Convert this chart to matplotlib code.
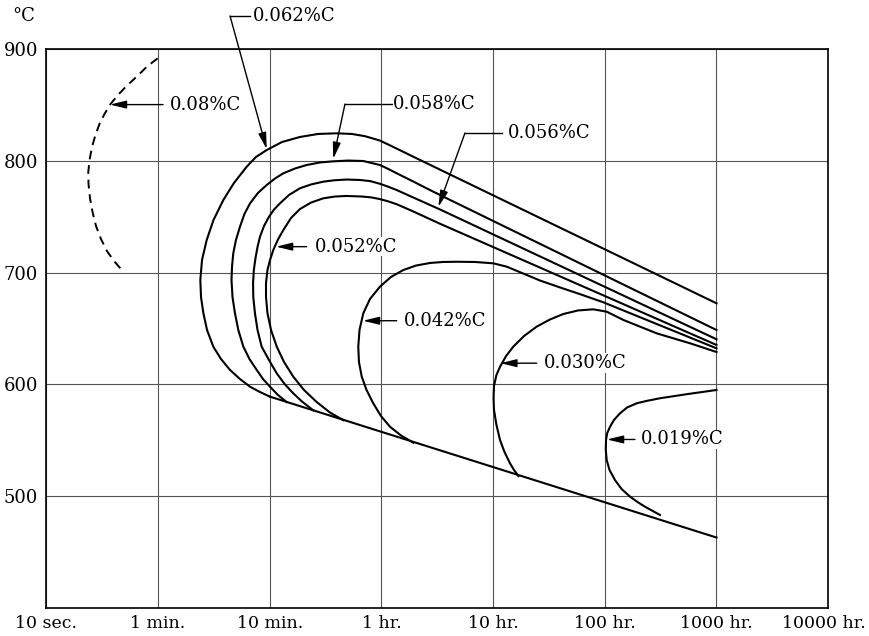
import matplotlib
matplotlib.use("Agg")
import matplotlib.pyplot as plt
import matplotlib.transforms as mtransforms

# x positions are grid steps: 0 = 10 sec, 1 = 1 min, ... 7 = 10000 hr
x_labels = ["10 sec.", "1 min.", "10 min.", "1 hr.", "10 hr.", "100 hr.", "1000 hr.", "10000 hr."]
y_ticks = [500, 600, 700, 800, 900]

# 0.08 %C (dashed)
c080_x = [0.997, 0.902, 0.809, 0.718, 0.637, 0.575, 0.521, 0.476, 0.440, 0.409,
          0.387, 0.376, 0.378, 0.391, 0.414, 0.445, 0.490, 0.543, 0.606, 0.689]
c080_t = [891.9, 884.6, 875.5, 867.1, 858.6, 851.0, 842.1, 833.1, 823.3, 812.5,
          800.9, 790.2, 779.4, 766.9, 754.3, 741.8, 730.1, 719.4, 710.5, 700.9]

# 0.062 %C
c062_x = [2.003, 1.913, 1.824, 1.734, 1.645, 1.564, 1.495, 1.439, 1.406, 1.385, 1.379,
          1.394, 1.436, 1.497, 1.585, 1.680, 1.794, 1.877, 1.973, 2.110, 2.271, 2.432,
          2.600, 2.737, 2.853, 2.916, 2.987, 3.137, 3.286, 6.0]
c062_t = [589.0, 593.2, 597.9, 604.8, 612.9, 622.7, 633.8, 648.7, 663.9, 678.2, 693.5,
          711.4, 729.3, 747.2, 765.1, 780.3, 794.9, 803.6, 809.8, 817.0, 821.5, 824.2,
          824.8, 824.2, 822.2, 820.4, 818.3, 811.1, 803.8, 672.6]

# 0.058 %C
c058_x = [2.152, 2.074, 2.003, 1.940, 1.884, 1.819, 1.764, 1.719, 1.689, 1.667, 1.658,
          1.663, 1.674, 1.698, 1.734, 1.774, 1.824, 1.895, 1.973, 2.047, 2.122, 2.227,
          2.331, 2.450, 2.569, 2.701, 2.838, 2.987, 3.059, 3.137, 3.286, 3.435, 3.585, 6.0]
c058_t = [584.2, 590.5, 597.9, 604.8, 612.9, 622.7, 633.8, 648.7, 663.7, 678.2, 693.5,
          706.0, 717.4, 729.3, 741.2, 752.6, 762.1, 771.4, 778.5, 784.3, 789.0, 793.3,
          796.4, 798.7, 799.7, 800.4, 800.0, 796.4, 793.0, 789.0, 781.6, 774.0, 766.6, 648.7]

# 0.056 %C
c056_x = [2.390, 2.289, 2.211, 2.133, 2.063, 1.998, 1.928, 1.891, 1.868, 1.853, 1.851,
          1.858, 1.873, 1.891, 1.913, 1.949, 1.994, 2.039, 2.092, 2.173, 2.271, 2.370,
          2.480, 2.584, 2.689, 2.808, 2.900, 2.987, 3.060, 3.137, 3.286, 3.525, 6.0]
c056_t = [576.8, 584.7, 592.0, 600.4, 609.9, 621.0, 633.8, 648.7, 663.7, 678.2, 690.8,
          702.4, 713.2, 723.0, 732.2, 741.8, 750.1, 756.6, 762.1, 769.6, 775.6, 779.0,
          781.5, 782.8, 783.4, 783.0, 782.0, 779.6, 777.0, 774.0, 767.3, 756.6, 640.4]

# 0.052 %C
c052_x = [2.659, 2.540, 2.421, 2.307, 2.211, 2.128, 2.063, 2.012, 1.980, 1.967, 1.967,
          1.980, 2.003, 2.032, 2.074, 2.122, 2.191, 2.271, 2.370, 2.480, 2.585, 2.689,
          2.826, 2.910, 2.987, 3.060, 3.137, 3.286, 3.525, 6.0]
c052_t = [568.0, 574.8, 584.2, 595.0, 606.9, 620.1, 633.8, 648.7, 663.7, 678.2, 690.8,
          702.4, 711.4, 720.3, 729.7, 738.2, 749.0, 757.0, 762.8, 766.6, 768.2, 768.7,
          768.2, 767.4, 765.9, 763.9, 761.3, 754.8, 743.8, 635.3]

# 0.042 %C
c042_x = [3.286, 3.175, 3.077, 2.996, 2.927, 2.867, 2.824, 2.799, 2.793, 2.804, 2.838,
          2.898, 2.987, 3.086, 3.196, 3.310, 3.435, 3.551, 3.674, 3.838, 4.002, 4.122,
          4.259, 4.420, 4.599, 4.778, 4.987, 6.0]
c042_t = [547.8, 554.3, 562.1, 571.7, 583.1, 595.0, 606.9, 620.1, 633.8, 648.7, 663.7,
          676.5, 687.5, 696.2, 702.4, 706.4, 708.7, 709.6, 709.8, 709.6, 708.4, 705.4,
          699.7, 693.0, 686.8, 680.8, 673.5, 632.3]

# 0.030 %C
c030_x = [4.226, 4.187, 4.151, 4.102, 4.062, 4.030, 4.008, 4.004, 4.008, 4.030, 4.062,
          4.116, 4.181, 4.277, 4.390, 4.509, 4.628, 4.760, 4.897, 5.017, 5.166, 5.465,
          5.763, 6.0]
c030_t = [518.0, 523.4, 529.4, 539.5, 550.2, 563.7, 577.1, 587.8, 598.6, 608.4, 615.8,
          625.4, 633.8, 643.3, 651.7, 658.1, 663.0, 666.2, 667.2, 665.1, 657.7, 645.7,
          636.8, 629.0]

# 0.019 %C
c019_x = [6.0, 5.745, 5.494, 5.369, 5.286, 5.199, 5.136, 5.082, 5.047, 5.022, 5.011,
          5.009, 5.017, 5.042, 5.091, 5.150, 5.226, 5.293, 5.360, 5.494]
c019_t = [595.0, 591.4, 587.6, 585.1, 583.1, 579.3, 574.1, 568.1, 562.1, 556.5, 550.2,
          541.3, 532.3, 523.4, 514.4, 506.4, 499.5, 494.7, 490.5, 483.1]

# common lower boundary
lower_x = [2.003, 6.0]
lower_t = [589.0, 462.9]

curves = [(c062_x, c062_t), (c058_x, c058_t), (c056_x, c056_t), (c052_x, c052_t),
          (c042_x, c042_t), (c030_x, c030_t), (c019_x, c019_t), (lower_x, lower_t)]

# label text, text position, leader points, arrow tip
notes = [
    ("0.08%C", (1.11, 850.5), [(1.045, 850.5)], (0.57, 850.5)),
    ("0.062%C", (1.85, 929.8), [(1.822, 929.8), (1.645, 929.8)], (1.973, 810.7)),
    ("0.058%C", (3.107, 851.0), [(3.092, 851.0), (2.674, 851.0)], (2.569, 802.0)),
    ("0.056%C", (4.136, 825.0), [(4.077, 825.0), (3.748, 825.0)], (3.51, 759.0)),
    ("0.052%C", (2.406, 723.3), [(2.331, 723.3)], (2.057, 723.3)),
    ("0.042%C", (3.202, 657.0), [(3.137, 657.0)], (2.835, 657.0)),
    ("0.030%C", (4.458, 619.0), [(4.390, 619.0)], (4.065, 619.0)),
    ("0.019%C", (5.324, 550.7), [(5.270, 550.7)], (5.02, 550.7)),
]

plt.rcParams["font.family"] = ["DejaVu Serif"]
plt.rcParams["font.size"] = 13

fig = plt.figure(figsize=(8.7, 6.36), dpi=100)
ax = fig.add_axes([46.3 / 870, 1 - 607.8 / 636, 781.9 / 870, 558.5 / 636])
ax.set_xlim(0, 7)
ax.set_ylim(400, 900)
ax.set_xticks(range(len(x_labels)))
ax.set_xticklabels(x_labels, fontsize=12.5)
ax.set_yticks(y_ticks)
ax.tick_params(length=0)
ax.tick_params(axis="y", pad=6)
ax.tick_params(axis="x", pad=5)
ax.grid(color="#555555", lw=0.8)
ax.set_axisbelow(True)
for s in ax.spines.values():
    s.set_linewidth(1.2)

# keep the last tick label inside the picture
last = ax.get_xticklabels()[-1]
last.set_transform(last.get_transform() + mtransforms.ScaledTranslation(-0.04, 0, fig.dpi_scale_trans))

ax.plot(c080_x, c080_t, color="k", lw=1.4, ls=(0, (4.5, 3)))
for cx, ct in curves:
    ax.plot(cx, ct, color="k", lw=1.5, solid_joinstyle="round")

for txt, pos, leader, tip in notes:
    ax.text(pos[0], pos[1], txt, ha="left", va="center", zorder=5,
            bbox=dict(facecolor="white", edgecolor="none", pad=0.5))
    if len(leader) > 1:
        ax.plot([p[0] for p in leader], [p[1] for p in leader], color="k", lw=1.0,
                clip_on=False)
    ax.annotate("", xy=tip, xytext=leader[-1], annotation_clip=False,
                arrowprops=dict(arrowstyle="-|>,head_length=0.7,head_width=0.17",
                                color="k", lw=1.0, shrinkA=0, shrinkB=0,
                                mutation_scale=14))

fig.text(12.7 / 870, 1 - 16 / 636, "°C", ha="left", va="center")

fig.savefig("out.png", dpi=100)
